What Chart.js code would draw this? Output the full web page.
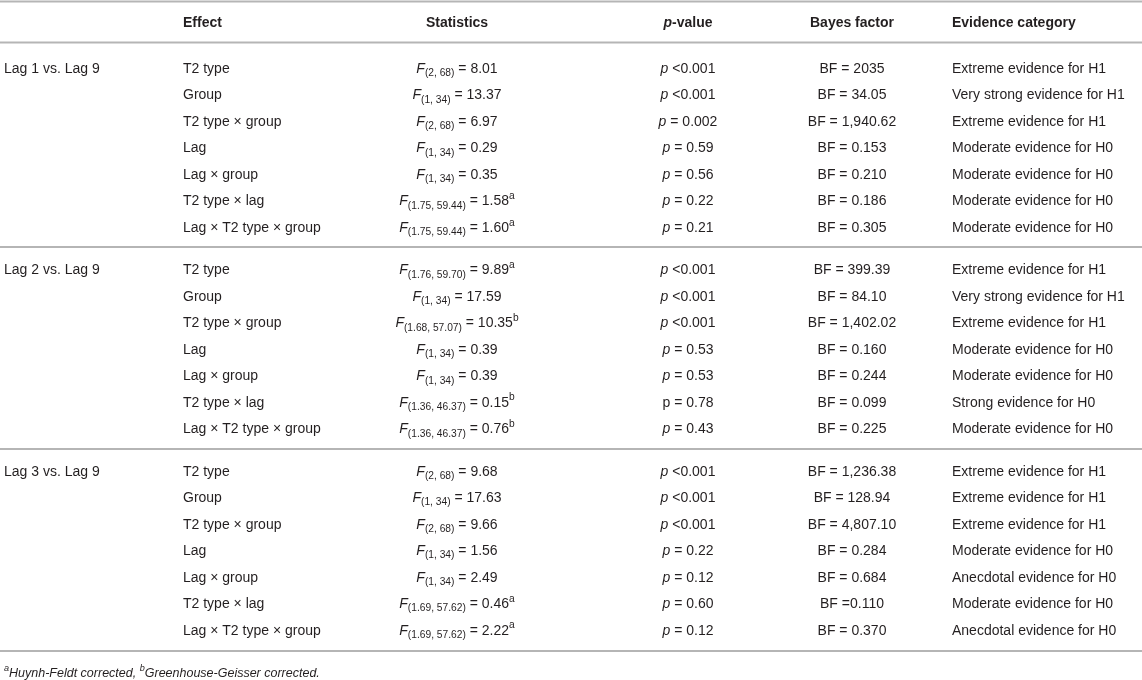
<!DOCTYPE html>
<html>
<head>
<meta charset="utf-8">
<script src="https://cdn.jsdelivr.net/npm/chart.js@4/dist/chart.umd.min.js"></script>
<style>
html,body{margin:0;padding:0;background:#fff;}
#wrap{width:1142px;height:680px;position:relative;}
</style>
</head>
<body>
<div id="wrap"><canvas id="c"></canvas></div>
<script>
// ---------- DATA ----------
const headers = ["", "Effect", "Statistics", "p-value", "Bayes factor", "Evidence category"];
const sectionLabels = ["Lag 1 vs. Lag 9", "Lag 2 vs. Lag 9", "Lag 3 vs. Lag 9"];
const effectLabels = ["T2 type", "Group", "T2 type × group", "Lag", "Lag × group", "T2 type × lag", "Lag × T2 type × group"];
const dfLabels = [
  ["2, 68", "1, 34", "2, 68", "1, 34", "1, 34", "1.75, 59.44", "1.75, 59.44"],
  ["1.76, 59.70", "1, 34", "1.68, 57.07", "1, 34", "1, 34", "1.36, 46.37", "1.36, 46.37"],
  ["2, 68", "1, 34", "2, 68", "1, 34", "1, 34", "1.69, 57.62", "1.69, 57.62"]
];
const fValues = [
  ["8.01", "13.37", "6.97", "0.29", "0.35", "1.58", "1.60"],
  ["9.89", "17.59", "10.35", "0.39", "0.39", "0.15", "0.76"],
  ["9.68", "17.63", "9.66", "1.56", "2.49", "0.46", "2.22"]
];
const fNotes = [
  ["", "", "", "", "", "a", "a"],
  ["a", "", "b", "", "", "b", "b"],
  ["", "", "", "", "", "a", "a"]
];
const pValues = [
  ["<0.001", "<0.001", "= 0.002", "= 0.59", "= 0.56", "= 0.22", "= 0.21"],
  ["<0.001", "<0.001", "<0.001", "= 0.53", "= 0.53", "= 0.78", "= 0.43"],
  ["<0.001", "<0.001", "<0.001", "= 0.22", "= 0.12", "= 0.60", "= 0.12"]
];
const pItalic = [
  [true, true, true, true, true, true, true],
  [true, true, true, true, true, false, true],
  [true, true, true, true, true, true, true]
];
const bayesFactors = [
  ["= 2035", "= 34.05", "= 1,940.62", "= 0.153", "= 0.210", "= 0.186", "= 0.305"],
  ["= 399.39", "= 84.10", "= 1,402.02", "= 0.160", "= 0.244", "= 0.099", "= 0.225"],
  ["= 1,236.38", "= 128.94", "= 4,807.10", "= 0.284", "= 0.684", "=0.110", "= 0.370"]
];
const evidence = [
  ["Extreme evidence for H1", "Very strong evidence for H1", "Extreme evidence for H1", "Moderate evidence for H0", "Moderate evidence for H0", "Moderate evidence for H0", "Moderate evidence for H0"],
  ["Extreme evidence for H1", "Very strong evidence for H1", "Extreme evidence for H1", "Moderate evidence for H0", "Moderate evidence for H0", "Strong evidence for H0", "Moderate evidence for H0"],
  ["Extreme evidence for H1", "Extreme evidence for H1", "Extreme evidence for H1", "Moderate evidence for H0", "Anecdotal evidence for H0", "Moderate evidence for H0", "Anecdotal evidence for H0"]
];
const footnoteParts = [
  {t: "a", sup: true, i: true}, {t: "Huynh-Feldt corrected, ", i: true},
  {t: "b", sup: true, i: true}, {t: "Greenhouse-Geisser corrected.", i: true}
];

// ---------- LAYOUT (not data) ----------
const COLS = [
  {x: 4, align: "left"}, {x: 183, align: "left"}, {x: 457, align: "center"},
  {x: 688, align: "center"}, {x: 852, align: "center"}, {x: 952, align: "left"}
];
const FIRST_ROW = 1.717, SECTION_STRIDE = 7.6;
const rowUnit = (s, r) => FIRST_ROW + s * SECTION_STRIDE + r;
const RULES = [-0.77, 0.77, 8.49, 16.11, 23.74];
const FOOT_Y = 24.53;
const TEXT_DY = 1.6;
const FONT = '"Liberation Sans", Arial, Helvetica, sans-serif';
const TEXT = "#231f20";

// ---------- build cells ----------
const cells = [];
headers.forEach((h, c) => {
  if (!h) return;
  let parts = h === "p-value" ? [{t: "p", i: true, b: true}, {t: "-value", b: true}] : [{t: h, b: true}];
  cells.push({x: COLS[c].x, y: 0, parts, align: COLS[c].align});
});
sectionLabels.forEach((lab, s) => {
  cells.push({x: COLS[0].x, y: rowUnit(s, 0), parts: [{t: lab}], align: "left"});
  effectLabels.forEach((eff, r) => {
    const y = rowUnit(s, r);
    cells.push({x: COLS[1].x, y, parts: [{t: eff}], align: "left"});
    const st = [{t: "F", i: true}, {t: "(" + dfLabels[s][r] + ")", sub: true}, {t: " = " + fValues[s][r]}];
    if (fNotes[s][r]) st.push({t: fNotes[s][r], sup: true});
    cells.push({x: COLS[2].x, y, parts: st, align: "center"});
    const pv = pValues[s][r];
    cells.push({x: COLS[3].x, y, parts: [{t: "p", i: pItalic[s][r]}, {t: " " + pv}], align: "center"});
    cells.push({x: COLS[4].x, y, parts: [{t: "BF " + bayesFactors[s][r]}], align: "center"});
    cells.push({x: COLS[5].x, y, parts: [{t: evidence[s][r]}], align: "left"});
  });
});
cells.push({x: COLS[0].x, y: FOOT_Y, parts: footnoteParts, align: "left", size: 12.5});

function fontFor(p, size) {
  const sz = (p.sub || p.sup) ? size * 0.73 : size;
  return (p.i ? "italic " : "") + (p.b ? "bold " : "") + sz + "px " + FONT;
}
function drawRich(ctx, parts, x, y, align, size) {
  let w = 0;
  parts.forEach(p => { ctx.font = fontFor(p, size); w += ctx.measureText(p.t).width; });
  let cx = align === "center" ? x - w / 2 : x;
  parts.forEach(p => {
    ctx.font = fontFor(p, size);
    let dy = p.sub ? size * 0.3 : (p.sup ? -size * 0.38 : 0);
    ctx.fillText(p.t, cx, y + dy);
    cx += ctx.measureText(p.t).width;
  });
}

const textPlugin = {
  id: "cellText",
  afterDatasetsDraw(chart) {
    const ctx = chart.ctx;
    const dsIndex = chart.data.datasets.findIndex(d => d.isCells);
    const meta = chart.getDatasetMeta(dsIndex);
    const data = chart.data.datasets[dsIndex].data;
    ctx.save();
    ctx.fillStyle = TEXT;
    ctx.textBaseline = "middle";
    ctx.textAlign = "left";
    meta.data.forEach((el, i) => {
      const d = data[i];
      drawRich(ctx, d.parts, el.x, el.y + TEXT_DY, d.align, d.size || 14);
    });
    ctx.restore();
  }
};

const ruleSets = RULES.map(u => ({
  type: "scatter", showLine: true, data: [{x: 0, y: u}, {x: 1142, y: u}],
  borderColor: "#b5b5b5", borderWidth: 2, pointRadius: 0, clip: false
}));

new Chart(document.getElementById("c"), {
  type: "scatter",
  data: {
    datasets: [
      ...ruleSets,
      {isCells: true, data: cells, pointRadius: 0, pointHoverRadius: 0, clip: false}
    ]
  },
  options: {
    responsive: true, maintainAspectRatio: false, animation: false,
    layout: {padding: 0},
    events: [],
    plugins: {legend: {display: false}, tooltip: {enabled: false}},
    scales: {
      x: {type: "linear", min: 0, max: 1142, display: false},
      y: {type: "linear", reverse: true, min: -22 / 26.5, max: (680 - 22) / 26.5, display: false}
    }
  },
  plugins: [textPlugin]
});
</script>
</body>
</html>
